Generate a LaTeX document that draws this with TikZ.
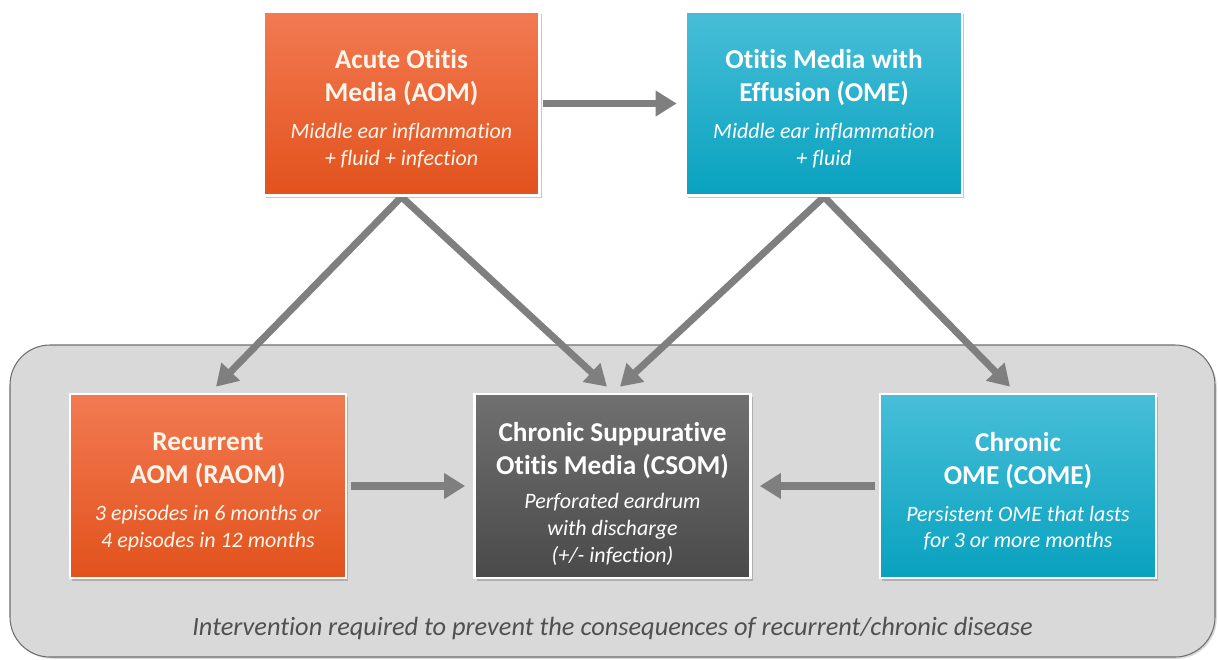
\documentclass[tikz,border=0pt]{standalone}
\usepackage{fontspec}
\setmainfont{Carlito}[Ligatures=NoCommon]
\usepackage{tikz}
\usetikzlibrary{arrows.meta,shadows,backgrounds}
\definecolor{aomtop}{HTML}{F27A52}
\definecolor{aombot}{HTML}{E2521C}
\definecolor{ometop}{HTML}{48BED8}
\definecolor{omebot}{HTML}{08A2BF}
\definecolor{csomtop}{HTML}{707070}
\definecolor{csombot}{HTML}{4A4A4A}
\definecolor{arrowgrey}{HTML}{7F7F7F}
\definecolor{panelgrey}{HTML}{D9D9D9}
\definecolor{panelline}{HTML}{6E6E6E}
\definecolor{notegrey}{HTML}{505050}

\begin{document}
\begin{tikzpicture}[
    box/.style={rectangle, draw=white, line width=1.5pt, minimum width=5.52cm, minimum height=3.68cm,
        inner sep=2pt, align=center, text=white, font=\fontsize{15.5}{18.7}\selectfont\bfseries,
        drop shadow={shadow xshift=1.2pt, shadow yshift=-1.5pt, opacity=0.45}},
    aombox/.style={box, top color=aomtop, bottom color=aombot, text=white!92!orange},
    omebox/.style={box, top color=ometop, bottom color=omebot},
    csombox/.style={box, top color=csomtop, bottom color=csombot},
    flow/.style={draw=arrowgrey, line width=4pt, -{Triangle[length=12pt,width=14pt]}}
]
\useasboundingbox (0,0) rectangle (24.36,-13.18);

% Grey panel
\begin{pgfonlayer}{background}
\draw[panelline, fill=panelgrey, line width=0.6pt, rounded corners=0.8cm,
    drop shadow={shadow xshift=1pt, shadow yshift=-1pt, opacity=0.3}] (0.2,-6.9) rectangle (24.3,-13.14);
\end{pgfonlayer}
\node (note) at (12.25,-12.56) [text=notegrey, font=\fontsize{15}{18}\selectfont\itshape]
    {Intervention required to prevent the consequences of recurrent/chronic disease};

% Top row
\node (aom) at (8.03,-2.07) [aombox] {\rule{0pt}{17pt}Acute Otitis\\Media (AOM)\\[2.3pt]
    {\fontsize{12.5}{15.3}\selectfont\mdseries\itshape Middle ear inflammation}\\[-3.4pt]
    {\fontsize{12.5}{15.3}\selectfont\mdseries\itshape + fluid + infection}};
\node (ome) at (16.48,-2.07) [omebox] {\rule{0pt}{17pt}Otitis Media with\\Effusion (OME)\\[2.3pt]
    {\fontsize{12.5}{15.3}\selectfont\mdseries\itshape Middle ear inflammation}\\[-3.4pt]
    {\fontsize{12.5}{15.3}\selectfont\mdseries\itshape + fluid}};

% Bottom row
\node (raom) at (4.16,-9.72) [aombox] {\rule{0pt}{17pt}Recurrent\\AOM (RAOM)\\[2.3pt]
    {\fontsize{12.5}{15.3}\selectfont\mdseries\itshape 3 episodes in 6 months or}\\[-3.4pt]
    {\fontsize{12.5}{15.3}\selectfont\mdseries\itshape 4 episodes in 12 months}};
\node (csom) at (12.25,-9.72) [csombox] {\rule{0pt}{20pt}Chronic Suppurative\\Otitis Media (CSOM)\\[1pt]
    {\fontsize{12.5}{15.3}\selectfont\mdseries\itshape Perforated eardrum}\\[-3.4pt]
    {\fontsize{12.5}{15.3}\selectfont\mdseries\itshape with discharge}\\[-3.4pt]
    {\fontsize{12.5}{15.3}\selectfont\mdseries\itshape (+/- infection)}};
\node (come) at (20.36,-9.72) [omebox] {\rule{0pt}{17pt}Chronic\\OME (COME)\\[2.3pt]
    {\fontsize{12.5}{15.3}\selectfont\mdseries\itshape Persistent OME that lasts}\\[-3.4pt]
    {\fontsize{12.5}{15.3}\selectfont\mdseries\itshape for 3 or more months}};

% Arrows
\begin{pgfonlayer}{background}
\draw[flow, shorten <=1pt, shorten >=0.16cm] (aom.east) -- (ome.west);
\draw[flow] (aom.south) -- ([xshift=0.16cm, yshift=0.12cm]raom.north);
\draw[flow] (aom.south) -- ([xshift=-0.11cm, yshift=0.12cm]csom.north);
\draw[flow] (ome.south) -- ([xshift=0.15cm, yshift=0.12cm]csom.north);
\draw[flow] (ome.south) -- ([xshift=-0.16cm, yshift=0.12cm]come.north);
\draw[flow, shorten <=2pt, shorten >=0.16cm] (raom.east) -- (csom.west);
\draw[flow, shorten <=2pt, shorten >=0.16cm] (come.west) -- (csom.east);
\end{pgfonlayer}
\end{tikzpicture}
\end{document}
